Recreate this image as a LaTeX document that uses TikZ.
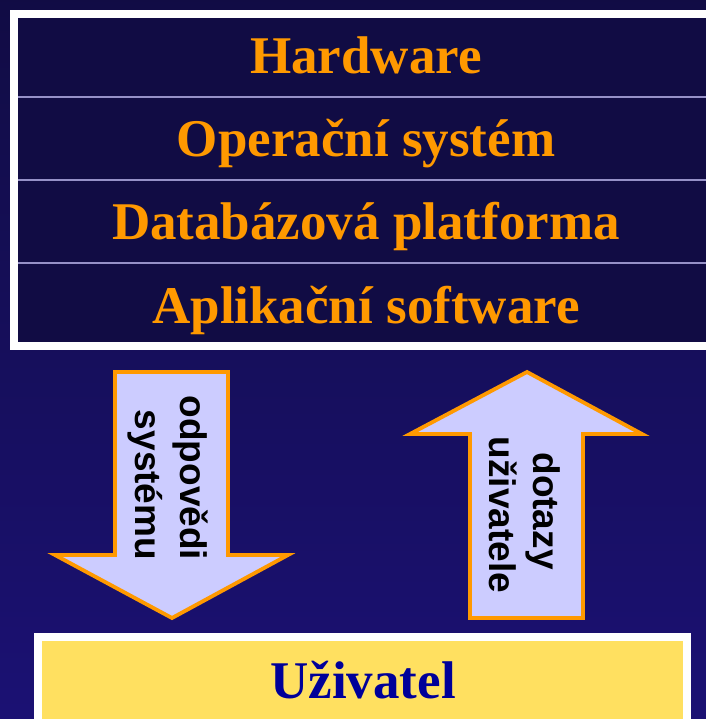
\documentclass[tikz,border=0pt]{standalone}
\usepackage{fontspec}
\setmainfont{Liberation Serif}
\newfontfamily\arrowfont{Liberation Sans}

\definecolor{bgtop}{RGB}{17,12,68}
\definecolor{bgbottom}{RGB}{27,17,116}
\definecolor{layertext}{RGB}{255,153,0}
\definecolor{arrowfill}{RGB}{204,204,255}
\definecolor{userfill}{RGB}{255,224,96}
\definecolor{usertext}{RGB}{0,0,153}
\definecolor{rulecolor}{RGB}{150,145,200}

\begin{document}
\begin{tikzpicture}[x=1pt,y=-1pt,
  layer/.style={anchor=base, inner sep=0pt, text=layertext,
    font=\fontsize{53}{60}\selectfont\bfseries},
  userlabel/.style={anchor=base, inner sep=0pt, text=usertext,
    font=\fontsize{53}{60}\selectfont\bfseries},
  arrowlabel/.style={anchor=base, inner sep=0pt, rotate=-90, text=black,
    font=\arrowfont\fontsize{37}{44}\selectfont\bfseries},
  flowarrow/.style={draw=layertext, line width=3.8pt, fill=arrowfill, line join=miter},
  layerrule/.style={draw=rulecolor, line width=1.5pt},
]
\useasboundingbox (0,0) rectangle (705,719);
\clip (-6,-6) rectangle (712,726);

% background
\shade[top color=bgtop, bottom color=bgbottom] (-6,-6) rectangle (712,726);

% layer stack, open towards the right edge
\fill[bgtop] (14,14) rectangle (712,346);
\draw[layerrule] (18,97) -- (712,97);
\draw[layerrule] (18,180) -- (712,180);
\draw[layerrule] (18,263) -- (712,263);
\draw[white, line width=8.5pt] (712,14) -- (14,14) -- (14,346) -- (712,346);

\node[layer] (hw)  at (366,74)  {Hardware};
\node[layer] (os)  at (366,157) {Operační systém};
\node[layer] (db)  at (366,240) {Databázová platforma};
\node[layer] (app) at (366,323) {Aplikační software};

% response arrow (down)
\draw[flowarrow] (115,372) -- (228,372) -- (228,555) -- (288,555)
  -- (172,618) -- (55,555) -- (115,555) -- cycle;
\node[arrowlabel] (resp1) at (180,478) {odpovědi};
\node[arrowlabel] (resp2) at (135,485) {systému};

% query arrow (up)
\draw[flowarrow] (527,372) -- (642,434) -- (583,434) -- (583,618)
  -- (470,618) -- (470,434) -- (410,434) -- cycle;
\node[arrowlabel] (query1) at (533,511) {dotazy};
\node[arrowlabel] (query2) at (489,515) {uživatele};

% user box
\draw[white, line width=8pt, fill=userfill] (38,637) rectangle (687,740);
\node[userlabel] (user) at (363,698) {Uživatel};
\end{tikzpicture}
\end{document}
